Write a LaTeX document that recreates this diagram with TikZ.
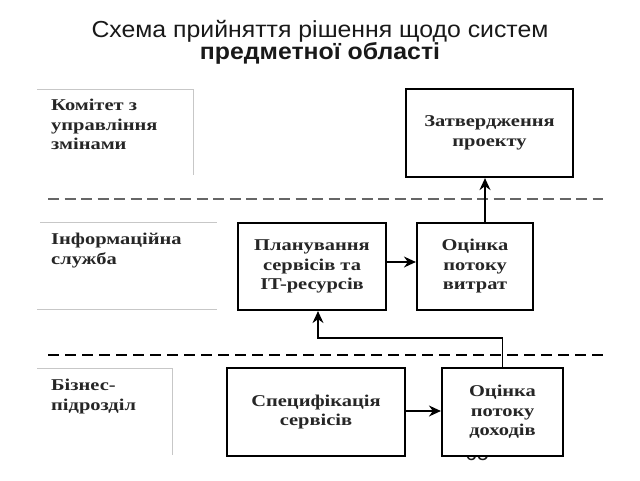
\documentclass[tikz,border=0pt]{standalone}
\usepackage{fontspec}
\setmainfont{Liberation Serif}[FakeStretch=1.24]
\newfontfamily\titlefont{Liberation Sans}[FakeStretch=1.07]
\newfontfamily\pagefont{Liberation Sans}
\usetikzlibrary{arrows.meta}
\tikzset{
  mainbox/.style={draw=black, line width=2.2pt, fill=white, inner sep=0pt, align=center,
    font=\fontsize{16.5}{19.5}\selectfont\bfseries, text=black!85},
  lanelabel/.style={anchor=north west, inner sep=0pt, align=left,
    font=\fontsize{16.5}{19.5}\selectfont\bfseries, text=black!85},
  laneline/.style={draw=black!22, line width=0.8pt},
  arr/.style={line width=1.8pt, -{Stealth[length=12pt,width=11pt,inset=4pt]}},
  conn/.style={line width=1.5pt},
  titletext/.style={font=\titlefont\fontsize{23.2}{24}\selectfont, text=black!90, anchor=base},
}
\begin{document}
\begin{tikzpicture}[x=1pt,y=-1pt]
\useasboundingbox (0,0) rectangle (640,480);
% title
\node[titletext] (t1) at (320,37) {Схема прийняття рішення щодо систем};
\node[titletext, font=\titlefont\fontsize{23.2}{24}\selectfont\bfseries] (t2) at (320,59.5) {предметної області};
% lane label frames
\draw[laneline] (37,89) -- (193,89) -- (193,175);
\draw[laneline] (40,222) -- (217,222);
\draw[laneline] (37,309) -- (217,309);
\draw[laneline] (37,368) -- (172,368) -- (172,455);
\node[lanelabel] (l1) at (51,99) {Комітет з\\управління\\змінами};
\node[lanelabel] (l2) at (51,233) {Інформаційна\\служба};
\node[lanelabel] (l3) at (51,379) {Бізнес-\\підрозділ};
% dashed separators
\draw[draw=black!60, line width=2pt, dash pattern=on 11pt off 5.5pt] (48,199) -- (603,199);
\draw[draw=black, line width=2.8pt, dash pattern=on 11pt off 6pt] (48,355) -- (603,355);
% page number (partly hidden)
\node[font=\pagefont\fontsize{21}{22}\selectfont, anchor=base, text=black!90] (pg) at (477,460) {65};
% main boxes
\node[mainbox, minimum width=167pt, minimum height=88pt] (zat) at (489.5,133) {Затвердження\\проекту};
\node[mainbox, minimum width=148pt, minimum height=87pt] (plan) at (312,266.5) {Планування\\сервісів та\\IT-ресурсів};
\node[mainbox, minimum width=116pt, minimum height=87pt] (vyt) at (475,266.5) {Оцінка\\потоку\\витрат};
\node[mainbox, minimum width=178pt, minimum height=88pt] (spec) at (316,412) {Специфікація\\сервісів};
\node[mainbox, minimum width=121pt, minimum height=88pt] (doh) at (502.5,412) {Оцінка\\потоку\\доходів};
% connectors
\draw[arr] ([yshift=4.5pt]plan.east) -- ([yshift=4.5pt]plan.east -| vyt.west);
\draw[arr] ([xshift=10pt]vyt.north) -- ([xshift=10pt]vyt.north |- zat.south);
\draw[arr] ([yshift=1pt]spec.east) -- ([yshift=1pt]spec.east -| doh.west);
\coordinate (c1) at ([yshift=29pt]doh.north);
\coordinate (c2) at ([xshift=6pt]plan.south);
\draw[conn, -{Stealth[length=12pt,width=11pt,inset=4pt]}] (doh.north) -- (c1) -- (c1 -| c2) -- (c2);
\end{tikzpicture}
\end{document}
